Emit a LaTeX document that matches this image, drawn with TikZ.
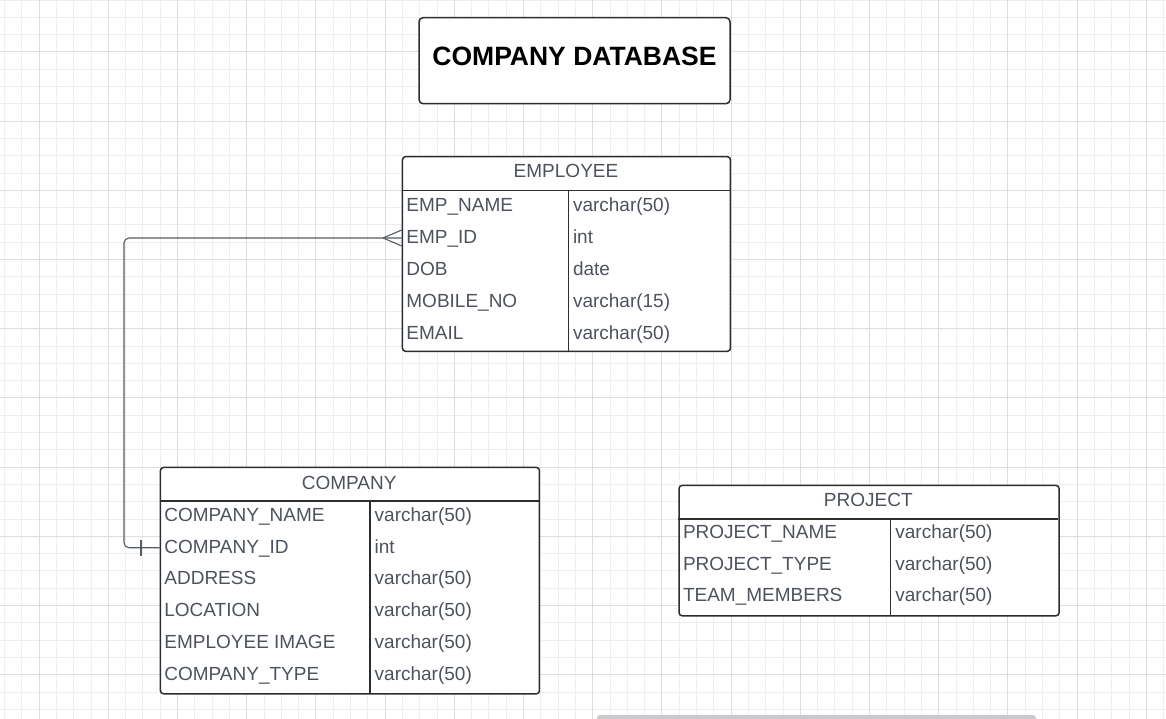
\documentclass[tikz,border=0pt]{standalone}
\usepackage{fontspec}
\setmainfont{Liberation Sans}
\definecolor{gridminor}{HTML}{EEEEEE}
\definecolor{gridmajor}{HTML}{DDDDDD}
\definecolor{txtgray}{HTML}{4D535B}
\definecolor{border}{HTML}{2B2D31}
\definecolor{linkgray}{HTML}{555A62}
\definecolor{scrollbar}{HTML}{C9CACD}
\begin{document}
\begin{tikzpicture}[x=1pt,y=-1pt,
  minorline/.style={gridminor,line width=0.7pt},
  majorline/.style={gridmajor,line width=0.9pt},
  tbl/.style={draw=border,line width=1.5pt,rounded corners=3pt,fill=white,inner sep=0pt,anchor=north west},
  sepline/.style={border,line width=1.5pt},
  titlebox/.style={draw=border,line width=1.5pt,rounded corners=4pt,fill=white,inner sep=0pt,minimum width=311pt,minimum height=86pt},
  titletext/.style={font=\fontsize{26.5}{30}\selectfont\bfseries,text=black,inner sep=0pt},
  hdr/.style={font=\fontsize{19}{22}\selectfont,text=txtgray,inner sep=0pt},
  rowtxt/.style={font=\fontsize{19}{22}\selectfont,text=txtgray,anchor=west,inner xsep=4.5pt,inner ysep=0pt,text height=14pt,text depth=3pt},
  typetxt/.style={font=\fontsize{19}{22}\selectfont,text=txtgray,anchor=west,inner xsep=4.5pt,inner ysep=0pt,text height=14pt,text depth=3pt},
  link/.style={linkgray,line width=1.1pt}
]
\useasboundingbox (0,0) rectangle (1166,719);
\clip (0,0) rectangle (1166,719);
\fill[white] (0,0) rectangle (1166,719);
% grid
\foreach \i in {-3,...,66} { \draw[minorline] ({39+17.3*\i},0) -- ({39+17.3*\i},719); }
\foreach \i in {-3,...,40} { \draw[minorline] (0,{51.8+17.3*\i}) -- (1166,{51.8+17.3*\i}); }
\foreach \i in {-1,...,17} { \draw[majorline] ({39+69.2*\i},0) -- ({39+69.2*\i},719); }
\foreach \i in {-1,...,10} { \draw[majorline] (0,{51.8+69.2*\i}) -- (1166,{51.8+69.2*\i}); }
% scrollbar
\fill[scrollbar,rounded corners=3pt] (597,715) rectangle (1036,725);

% title
\node[titlebox] (title) at (574.5,60.7) {};
\node[titletext] (titletxt) at (574.5,56.5) {COMPANY DATABASE};

% EMPLOYEE
\node[tbl,minimum width=328pt,minimum height=194.5pt] (emp) at (401.7,156) {};
\draw[sepline] (401.7,190.7) -- (730,190.7);
\draw[sepline] (568.3,190.7) -- (568.3,350.5);
\node[hdr] (emphdr) at (566,171) {EMPLOYEE};
\node[rowtxt] (empname) at (401.7,206) {EMP\_NAME};
\node[rowtxt] (empid) at (401.7,238) {EMP\_ID};
\node[rowtxt] (empdob) at (401.7,270) {DOB};
\node[rowtxt] (empmob) at (401.7,302) {MOBILE\_NO};
\node[rowtxt] (empmail) at (401.7,334) {EMAIL};
\node[typetxt] (tempname) at (568.3,206) {varchar(50)};
\node[typetxt] (tempid) at (568.3,238) {int};
\node[typetxt] (tempdob) at (568.3,270) {date};
\node[typetxt] (tempmob) at (568.3,302) {varchar(15)};
\node[typetxt] (tempmail) at (568.3,334) {varchar(50)};

% COMPANY
\node[tbl,minimum width=379pt,minimum height=226.3pt] (comp) at (159.7,466.7) {};
\draw[sepline] (159.7,501.2) -- (538.7,501.2);
\draw[sepline] (370,501.2) -- (370,693);
\node[hdr] (comphdr) at (349.2,482.7) {COMPANY};
\node[rowtxt] (compname) at (159.7,516) {COMPANY\_NAME};
\node[rowtxt] (compid) at (159.7,547.7) {COMPANY\_ID};
\node[rowtxt] (compaddr) at (159.7,579.4) {ADDRESS};
\node[rowtxt] (comploc) at (159.7,611.1) {LOCATION};
\node[rowtxt] (compimg) at (159.7,642.8) {EMPLOYEE IMAGE};
\node[rowtxt] (comptype) at (159.7,674.5) {COMPANY\_TYPE};
\node[typetxt] (tcompname) at (370,516) {varchar(50)};
\node[typetxt] (tcompid) at (370,547.7) {int};
\node[typetxt] (tcompaddr) at (370,579.4) {varchar(50)};
\node[typetxt] (tcomploc) at (370,611.1) {varchar(50)};
\node[typetxt] (tcompimg) at (370,642.8) {varchar(50)};
\node[typetxt] (tcomptype) at (370,674.5) {varchar(50)};

% PROJECT
\node[tbl,minimum width=380pt,minimum height=130.3pt] (proj) at (678.3,484.7) {};
\draw[sepline] (678.3,518.9) -- (1058.3,518.9);
\draw[sepline] (890.7,518.9) -- (890.7,615);
\node[hdr] (projhdr) at (868.3,500) {PROJECT};
\node[rowtxt] (projname) at (678.3,533) {PROJECT\_NAME};
\node[rowtxt] (projtype) at (678.3,564.7) {PROJECT\_TYPE};
\node[rowtxt] (projteam) at (678.3,596.4) {TEAM\_MEMBERS};
\node[typetxt] (tprojname) at (890.7,533) {varchar(50)};
\node[typetxt] (tprojtype) at (890.7,564.7) {varchar(50)};
\node[typetxt] (tprojteam) at (890.7,596.4) {varchar(50)};

% relationship connector
\draw[link,rounded corners=5pt] (empid.west) -- (124,238) -- (124,547.7) -- (compid.west);
% crow's foot (many) at EMPLOYEE
\coordinate (cfpt) at (383,238);
\draw[link] (cfpt) -- ([yshift=8pt]empid.west);
\draw[link] (cfpt) -- ([yshift=-8pt]empid.west);
% one mark at COMPANY
\draw[link] ([xshift=-18.7pt,yshift=-8pt]compid.west) -- ([xshift=-18.7pt,yshift=8pt]compid.west);
\end{tikzpicture}
\end{document}
